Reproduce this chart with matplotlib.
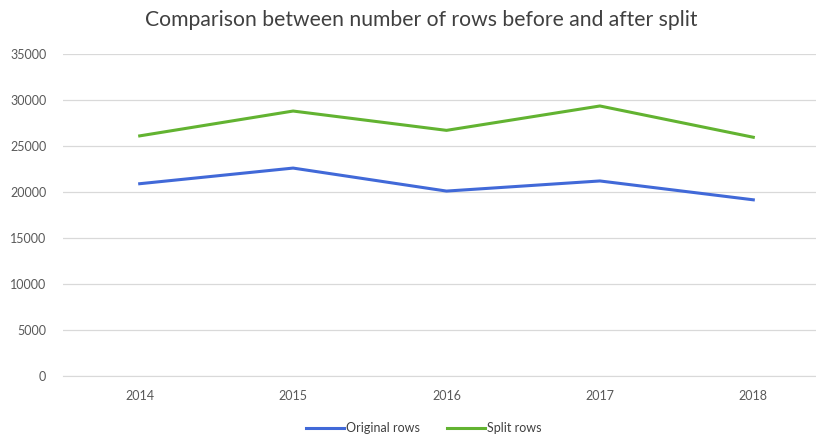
import matplotlib
matplotlib.use("Agg")
import matplotlib.pyplot as plt

years = ["2014", "2015", "2016", "2017", "2018"]
original_rows = [20900, 22600, 20100, 21200, 19150]
split_rows = [26100, 28800, 26700, 29350, 25950]

plt.rcParams["font.family"] = ["Lato", "DejaVu Sans"]

fig = plt.figure(figsize=(8.16, 4.41), dpi=100)
ax = fig.add_axes([63 / 816, 1 - 376 / 441, 767 / 816, 322 / 441])

x = range(len(years))
ax.plot(x, original_rows, color="#4169d8", lw=2.2, label="Original rows")
ax.plot(x, split_rows, color="#62b331", lw=2.2, label="Split rows")

ax.set_xlim(-0.5, len(years) - 0.5)
ax.set_ylim(0, 35000)
ax.set_yticks(range(0, 35001, 5000))
ax.set_xticks(list(x))
ax.set_xticklabels(years)
ax.grid(axis="y", color="#d9d9d9", lw=0.9)
ax.set_axisbelow(True)
for s in ax.spines.values():
    s.set_visible(False)
ax.spines["bottom"].set_visible(True)
ax.spines["bottom"].set_color("#d9d9d9")
ax.tick_params(length=0, labelsize=9, colors="#595959")
ax.tick_params(axis="y", pad=12)
ax.tick_params(axis="x", pad=10)

fig.text(421 / 816, 1 - 20 / 441, "Comparison between number of rows before and after split",
         ha="center", va="center", fontsize=15.2, color="#404040")
fig.legend(loc="center", bbox_to_anchor=(424 / 816, 1 - 428 / 441), ncol=2, frameon=False,
           fontsize=9, labelcolor="#404040", handlelength=3, columnspacing=2.2, handletextpad=0.2)

fig.savefig("out.png", dpi=100)
